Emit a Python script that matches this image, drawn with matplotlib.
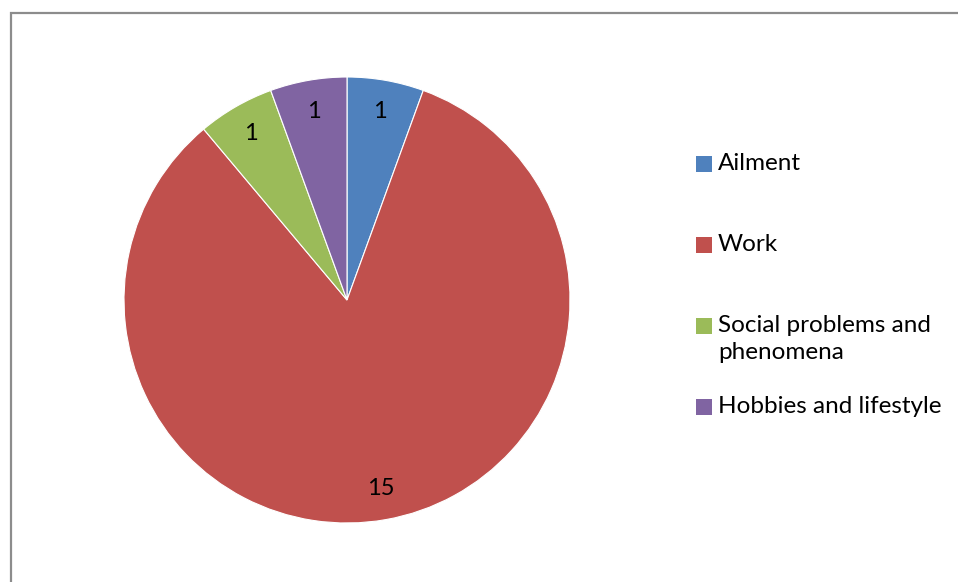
import matplotlib.pyplot as plt
from matplotlib.patches import Rectangle

# data
categories = ['Ailment', 'Work', 'Social problems and phenomena', 'Hobbies and lifestyle']
legend_labels = ['Ailment', 'Work', 'Social problems and\nphenomena', 'Hobbies and lifestyle']
values = [1, 15, 1, 1]
colors = ['#4f81bd', '#c0504d', '#9bbb59', '#8064a2']

plt.rcParams['font.family'] = ['Lato', 'DejaVu Sans']
W, H = 958, 582
fig = plt.figure(figsize=(W / 100, H / 100), dpi=100)

# chart border
fig.patches.append(Rectangle((10.5 / W, -0.1), 1.2, 1 - 13.0 / H + 0.1,
                             transform=fig.transFigure, fill=False,
                             edgecolor='#8c8c8c', linewidth=1.6))

# pie, center (347,300) radius 223 px
ax = fig.add_axes([124 / W, 59 / H, 446 / W, 446 / H])
wedges, texts = ax.pie(values, colors=colors, startangle=90, counterclock=False,
                       labels=[str(v) for v in values], labeldistance=0.86,
                       wedgeprops=dict(edgecolor='white', linewidth=0.8),
                       textprops=dict(fontsize=17, color='black'))
for t in texts:
    t.set_horizontalalignment('center')
    t.set_verticalalignment('center')
ax.set_xlim(-1, 1)
ax.set_ylim(-1, 1)
ax.set_aspect('equal')
ax.axis('off')

# legend drawn by hand to match the spacing
rows_y = [164, 245, 326, 407]
for lab, col, y in zip(legend_labels, colors, rows_y):
    fig.patches.append(Rectangle((696 / W, 1 - (y + 8) / H), 16 / W, 16 / H,
                                 transform=fig.transFigure, facecolor=col,
                                 edgecolor='none'))
    fig.text(718 / W, 1 - (y - 11) / H, lab, fontsize=17.5, va='top', ha='left',
             linespacing=1.38)

fig.savefig('out.png', dpi=100)
